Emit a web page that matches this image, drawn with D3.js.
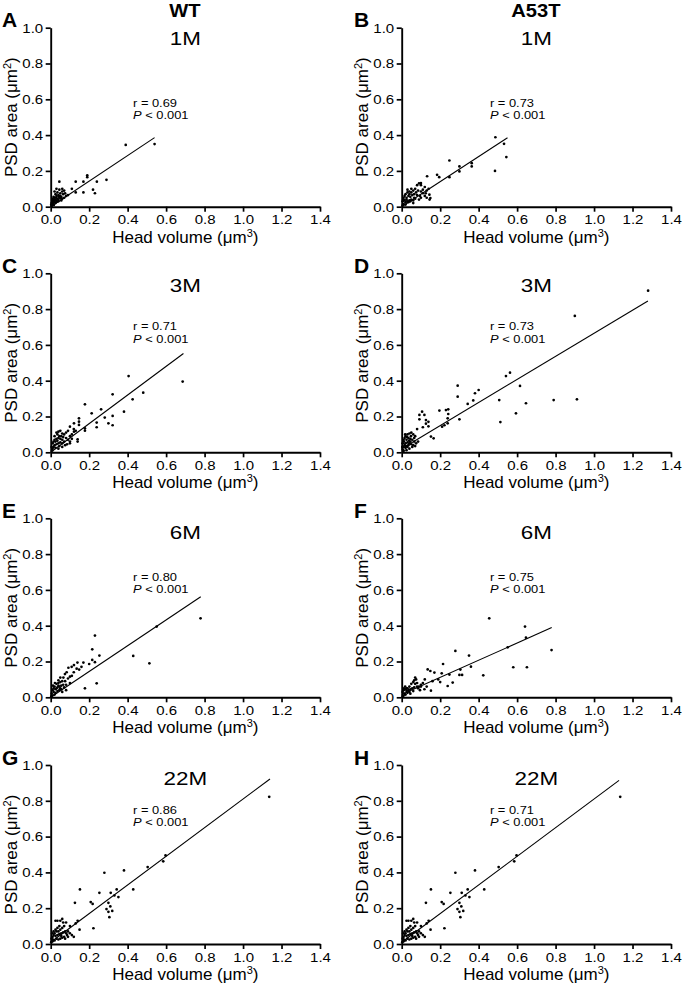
<!DOCTYPE html>
<html><head><meta charset="utf-8">
<script src="https://cdn.jsdelivr.net/npm/d3@7"></script>
<style>
html,body{margin:0;padding:0;background:#fff;}
svg text{font-family:"Liberation Sans",Arial,Helvetica,sans-serif;fill:#000;}
</style></head>
<body><svg id="c" width="682" height="987"></svg>
<script>
const panelLetters = ["A","B","C","D","E","F","G","H"];
const columnTitles = ["WT","A53T"];
const rowTitles = ["1M","3M","6M","22M"];
const rValues = ["0.69","0.73","0.71","0.73","0.80","0.75","0.86","0.71"];
const xTicks = [0,0.2,0.4,0.6,0.8,1.0,1.2,1.4];
const yTicks = [0,0.2,0.4,0.6,0.8,1.0];
const fitSlope = [0.715,0.70,0.80,0.645,0.72,0.48,0.80,0.80];
const fitIntercept = [0.0,0.0,0.0,0.02,0.0,0.015,0.01,0.01];
const fitXMax = [0.54,0.55,0.69,1.28,0.78,0.78,1.14,1.13];

const pointsA = [[0.39,0.345],[0.54,0.35],[0.29,0.15],[0.24,0.14],[0.19,0.175],[0.19,0.165],[0.17,0.14],[0.13,0.14],[0.045,0.14],[0.22,0.095],[0.23,0.075],[0.17,0.08],[0.13,0.08],[0.11,0.1],[0.09,0.065],[0.06,0.1],[0.07,0.09],[0.08,0.06],
[0.03,0.1],[0.045,0.095],[0.06,0.085],[0.065,0.07],[0.05,0.075],[0.04,0.065],[0.03,0.06],[0.02,0.05],[0.015,0.04],[0.01,0.03],[0.005,0.02],[0.02,0.03],[0.035,0.045],[0.045,0.05],[0.055,0.055],[0.025,0.07],[0.015,0.055],[0.01,0.045],[0.008,0.01],[0.012,0.015],[0.03,0.035],[0.04,0.04],[0.05,0.06],[0.07,0.05],[0.025,0.02],[0.018,0.025],[0.005,0.005],[0.003,0.012],[0.035,0.08],[0.02,0.085],[0.06,0.045],[0.075,0.075],[0.04,0.03],[0.028,0.05],[0.012,0.035],[0.022,0.04],[0.032,0.028],[0.042,0.058],[0.052,0.048],[0.008,0.022],[0.016,0.01],[0.055,0.035]];
const pointsB = [[0.487,0.388],[0.532,0.351],[0.544,0.277],[0.485,0.2],[0.364,0.243],[0.364,0.225],[0.3,0.225],[0.3,0.197],[0.248,0.258],[0.248,0.165],[0.184,0.178],[0.195,0.165],[0.132,0.17],[0.144,0.067],[0.149,0.048],[0.1,0.132],
[0.12,0.11],[0.1,0.12],[0.09,0.13],[0.08,0.12],[0.07,0.1],[0.06,0.09],[0.05,0.08],[0.04,0.085],[0.03,0.08],[0.02,0.07],[0.015,0.06],[0.01,0.05],[0.005,0.03],[0.025,0.05],[0.035,0.06],[0.045,0.055],[0.055,0.065],[0.065,0.07],[0.075,0.08],[0.085,0.09],[0.095,0.06],[0.1,0.05],[0.11,0.075],[0.13,0.09],[0.14,0.1],[0.12,0.06],[0.09,0.04],[0.07,0.045],[0.05,0.04],[0.04,0.035],[0.03,0.03],[0.02,0.025],[0.01,0.015],[0.005,0.008],[0.015,0.035],[0.025,0.04],[0.035,0.025],[0.045,0.03],[0.06,0.035],[0.08,0.065],[0.05,0.1],[0.03,0.095],[0.1,0.085],[0.13,0.05],[0.145,0.04],[0.06,0.02],[0.02,0.012],[0.008,0.04],[0.04,0.07],[0.065,0.05],[0.11,0.095],[0.125,0.075]];
const pointsC = [[0.686,0.395],[0.405,0.426],[0.481,0.333],[0.426,0.296],[0.322,0.324],[0.381,0.227],[0.322,0.203],[0.322,0.151],[0.3,0.162],[0.281,0.194],[0.262,0.24],[0.239,0.166],[0.239,0.14],[0.213,0.218],[0.178,0.268],[0.178,0.134],[0.178,0.121],[0.147,0.19],[0.147,0.171],[0.147,0.153],[0.14,0.073],[0.14,0.06],[0.121,0.162],[0.121,0.115],[0.1,0.143],[0.1,0.05],
[0.05,0.12],[0.04,0.115],[0.03,0.11],[0.06,0.105],[0.07,0.1],[0.08,0.11],[0.09,0.12],[0.1,0.09],[0.11,0.1],[0.12,0.13],[0.13,0.12],[0.09,0.07],[0.08,0.08],[0.06,0.07],[0.05,0.075],[0.04,0.08],[0.03,0.075],[0.02,0.07],[0.015,0.06],[0.01,0.05],[0.005,0.03],[0.02,0.04],[0.03,0.045],[0.04,0.05],[0.05,0.055],[0.06,0.05],[0.07,0.06],[0.025,0.06],[0.035,0.065],[0.045,0.09],[0.055,0.09],[0.065,0.085],[0.075,0.04],[0.085,0.045],[0.01,0.02],[0.008,0.01],[0.015,0.03],[0.02,0.09],[0.035,0.1],[0.045,0.035],[0.06,0.03],[0.025,0.025],[0.1,0.06],[0.11,0.075],[0.04,0.02]];
const pointsD = [[1.281,0.903],[0.9,0.762],[0.563,0.445],[0.542,0.426],[0.615,0.371],[0.291,0.372],[0.4,0.348],[0.381,0.33],[0.291,0.311],[0.343,0.27],[0.372,0.29],[0.507,0.292],[0.646,0.274],[0.79,0.292],[0.911,0.296],[0.594,0.218],[0.513,0.169],[0.3,0.184],[0.242,0.24],[0.242,0.214],[0.23,0.236],[0.239,0.19],[0.239,0.162],[0.222,0.151],[0.21,0.143],[0.196,0.233],[0.166,0.078],[0.152,0.088],[0.106,0.227],[0.092,0.184],[0.092,0.209],[0.126,0.18],[0.126,0.16],[0.139,0.17],[0.139,0.145],[0.118,0.209],[0.11,0.14],[0.08,0.13],[0.075,0.05],[0.085,0.06],
[0.05,0.11],[0.04,0.105],[0.03,0.1],[0.06,0.1],[0.07,0.09],[0.02,0.09],[0.015,0.08],[0.01,0.07],[0.005,0.05],[0.025,0.07],[0.035,0.08],[0.045,0.075],[0.055,0.07],[0.065,0.06],[0.02,0.05],[0.03,0.055],[0.04,0.05],[0.05,0.045],[0.06,0.04],[0.01,0.03],[0.015,0.04],[0.02,0.025],[0.03,0.03],[0.04,0.02],[0.005,0.015],[0.008,0.005],[0.025,0.012],[0.035,0.04],[0.045,0.06],[0.055,0.03],[0.012,0.06],[0.018,0.1],[0.028,0.085],[0.038,0.065],[0.048,0.09],[0.065,0.08],[0.07,0.035],[0.01,0.01],[0.003,0.03],[0.022,0.035]];
const pointsE = [[0.779,0.441],[0.551,0.395],[0.429,0.231],[0.513,0.19],[0.23,0.345],[0.216,0.268],[0.253,0.233],[0.23,0.196],[0.216,0.209],[0.239,0.078],[0.178,0.05],[0.17,0.194],[0.139,0.194],[0.2,0.186],[0.16,0.17],[0.148,0.155],[0.135,0.16],[0.121,0.18],[0.109,0.17],[0.092,0.165],[0.083,0.14],[0.074,0.13],[0.1,0.115],[0.066,0.11],[0.05,0.11],[0.04,0.095],[0.12,0.14],[0.11,0.12],[0.09,0.105],[0.075,0.09],[0.08,0.07],[0.1,0.08],
[0.06,0.09],[0.05,0.085],[0.04,0.08],[0.03,0.075],[0.02,0.06],[0.015,0.05],[0.01,0.04],[0.005,0.02],[0.025,0.045],[0.035,0.055],[0.045,0.06],[0.055,0.065],[0.065,0.07],[0.035,0.035],[0.045,0.04],[0.055,0.045],[0.06,0.03],[0.025,0.025],[0.015,0.03],[0.008,0.01],[0.003,0.005],[0.02,0.015],[0.03,0.05],[0.04,0.065],[0.05,0.05],[0.012,0.065],[0.022,0.08],[0.07,0.055],[0.08,0.04]];
const pointsF = [[0.455,0.441],[0.641,0.395],[0.646,0.333],[0.551,0.279],[0.779,0.264],[0.58,0.168],[0.651,0.168],[0.424,0.123],[0.279,0.259],[0.35,0.233],[0.36,0.171],[0.305,0.155],[0.3,0.125],[0.314,0.125],[0.215,0.186],[0.17,0.138],[0.135,0.156],[0.149,0.147],[0.208,0.134],[0.248,0.127],[0.265,0.082],[0.239,0.063],[0.152,0.037],[0.13,0.06],[0.118,0.045],[0.1,0.06],[0.09,0.06],[0.11,0.08],[0.12,0.1],[0.16,0.09],[0.19,0.1],[0.2,0.085],
[0.07,0.11],[0.075,0.1],[0.065,0.095],[0.06,0.085],[0.05,0.075],[0.04,0.06],[0.03,0.05],[0.02,0.045],[0.01,0.04],[0.005,0.03],[0.015,0.02],[0.025,0.035],[0.035,0.04],[0.045,0.045],[0.055,0.05],[0.065,0.055],[0.08,0.06],[0.085,0.05],[0.095,0.04],[0.03,0.025],[0.04,0.03],[0.02,0.015],[0.01,0.01],[0.005,0.005],[0.012,0.05],[0.018,0.06],[0.025,0.05],[0.045,0.02],[0.06,0.035],[0.07,0.075],[0.08,0.08],[0.1,0.07]];
const pointsG = [[1.136,0.822],[0.597,0.495],[0.585,0.462],[0.504,0.43],[0.429,0.305],[0.381,0.411],[0.279,0.398],[0.343,0.305],[0.352,0.262],[0.331,0.271],[0.312,0.286],[0.253,0.286],[0.152,0.305],[0.3,0.23],[0.31,0.21],[0.29,0.195],[0.3,0.18],[0.305,0.15],[0.32,0.185],[0.208,0.234],[0.218,0.224],[0.126,0.23],[0.222,0.088],[0.15,0.08],[0.13,0.115],[0.14,0.13],[0.12,0.04],[0.11,0.05],[0.1,0.06],[0.09,0.07],[0.08,0.06],[0.07,0.1],[0.065,0.12],[0.06,0.14],[0.05,0.13],[0.035,0.13],[0.025,0.13],[0.08,0.12],[0.1,0.1],
[0.06,0.09],[0.05,0.08],[0.04,0.07],[0.03,0.07],[0.02,0.06],[0.015,0.05],[0.01,0.04],[0.005,0.03],[0.003,0.01],[0.025,0.045],[0.035,0.05],[0.045,0.055],[0.055,0.06],[0.065,0.065],[0.075,0.07],[0.085,0.05],[0.07,0.04],[0.06,0.035],[0.05,0.03],[0.04,0.025],[0.03,0.03],[0.02,0.02],[0.01,0.015],[0.015,0.07],[0.025,0.08],[0.035,0.09],[0.045,0.1],[0.055,0.045],[0.075,0.03],[0.09,0.04],[0.008,0.06],[0.012,0.025]];
const pointsH = pointsG.map(p => p.slice());
const panelPoints = [pointsA,pointsB,pointsC,pointsD,pointsE,pointsF,pointsG,pointsH];

// layout
const colX = [50.7, 401.7];
const rowY = [27.7, 273.3, 518.3, 765];
const W = 269.3, H = 179;
const annotX = [0.428, 0.459];
const annotY = [0.559, 0.683, 0.651, 0.729];
const titleDy = [17.5, 19, 21, 20];
const svg = d3.select("#c");

const x = d3.scaleLinear().domain([0,1.4]).range([0,W]);
const y = d3.scaleLinear().domain([0,1]).range([H,0]);

panelLetters.forEach((L, i) => {
  const col = i % 2, row = Math.floor(i / 2);
  const g = svg.append("g").attr("transform", `translate(${colX[col]},${rowY[row]})`);

  g.append("g").selectAll("circle").data(panelPoints[i]).join("circle")
    .attr("cx", d => x(d[0])).attr("cy", d => y(d[1])).attr("r", 1.35).attr("fill", "#000");

  const x1 = fitXMax[i];
  g.append("line")
    .attr("x1", x(0)).attr("y1", y(fitIntercept[i]))
    .attr("x2", x(x1)).attr("y2", y(fitIntercept[i] + fitSlope[i]*x1))
    .attr("stroke", "#000").attr("stroke-width", 1.1);

  const xa = g.append("g").attr("transform", `translate(0,${H})`)
    .call(d3.axisBottom(x).tickValues(xTicks).tickFormat(d3.format(".1f")).tickSize(5).tickSizeOuter(0).tickPadding(4));
  const ya = g.append("g")
    .call(d3.axisLeft(y).tickValues(yTicks).tickFormat(d3.format(".1f")).tickSize(5).tickSizeOuter(0).tickPadding(2.5));
  [xa, ya].forEach(a => {
    a.select(".domain").attr("stroke", "#000").attr("stroke-width", 1.9);
    a.selectAll(".tick line").attr("stroke", "#000").attr("stroke-width", 1.7);
    a.selectAll("text").attr("font-size", 12).attr("fill", "#000");
  });
  xa.selectAll(".tick text").attr("transform", "scale(1.25,1)");
  ya.selectAll(".tick text").attr("x", -7.5/1.25).attr("transform", "scale(1.25,1)").attr("dy", "0.36em");

  const xl = g.append("text").attr("x", W/2).attr("y", H + 36)
    .attr("text-anchor", "middle").attr("font-size", 17);
  xl.append("tspan").text("Head volume (μm");
  xl.append("tspan").attr("font-size", 11).attr("dy", -6).text("3");
  xl.append("tspan").attr("dy", 6).text(")");

  const yl = g.append("text").attr("transform", `translate(-34,${H/2}) rotate(-90)`)
    .attr("text-anchor", "middle").attr("font-size", 17);
  yl.append("tspan").text("PSD area (μm");
  yl.append("tspan").attr("font-size", 11).attr("dy", -6).text("2");
  yl.append("tspan").attr("dy", 6).text(")");

  g.append("text").attr("transform", `translate(${W/2},${titleDy[row]}) scale(1.18,1)`)
    .attr("text-anchor", "middle").attr("font-size", 19).text(rowTitles[row]);

  if (row === 0) {
    g.append("text").attr("transform", `translate(${W/2 - 0.5},${-11}) scale(1.15,1)`)
      .attr("text-anchor", "middle").attr("font-size", 17.5).attr("font-weight", "bold").text(columnTitles[col]);
  }

  g.append("text").attr("x", col === 0 ? 2 - colX[0] : 354 - colX[1]).attr("y", -0.5)
    .attr("font-size", 21).attr("font-weight", "bold").text(L);

  const ax = x(annotX[col]), ay = y(annotY[row]);
  g.append("text").attr("transform", `translate(${ax},${ay}) scale(1.12,1)`)
    .attr("font-size", 11.5).text("r = " + rValues[i]);
  const p = g.append("text").attr("transform", `translate(${ax},${ay + 12.6}) scale(1.12,1)`)
    .attr("font-size", 11.5);
  p.append("tspan").attr("font-style", "italic").text("P");
  p.append("tspan").text(" < 0.001");
});
</script></body></html>
